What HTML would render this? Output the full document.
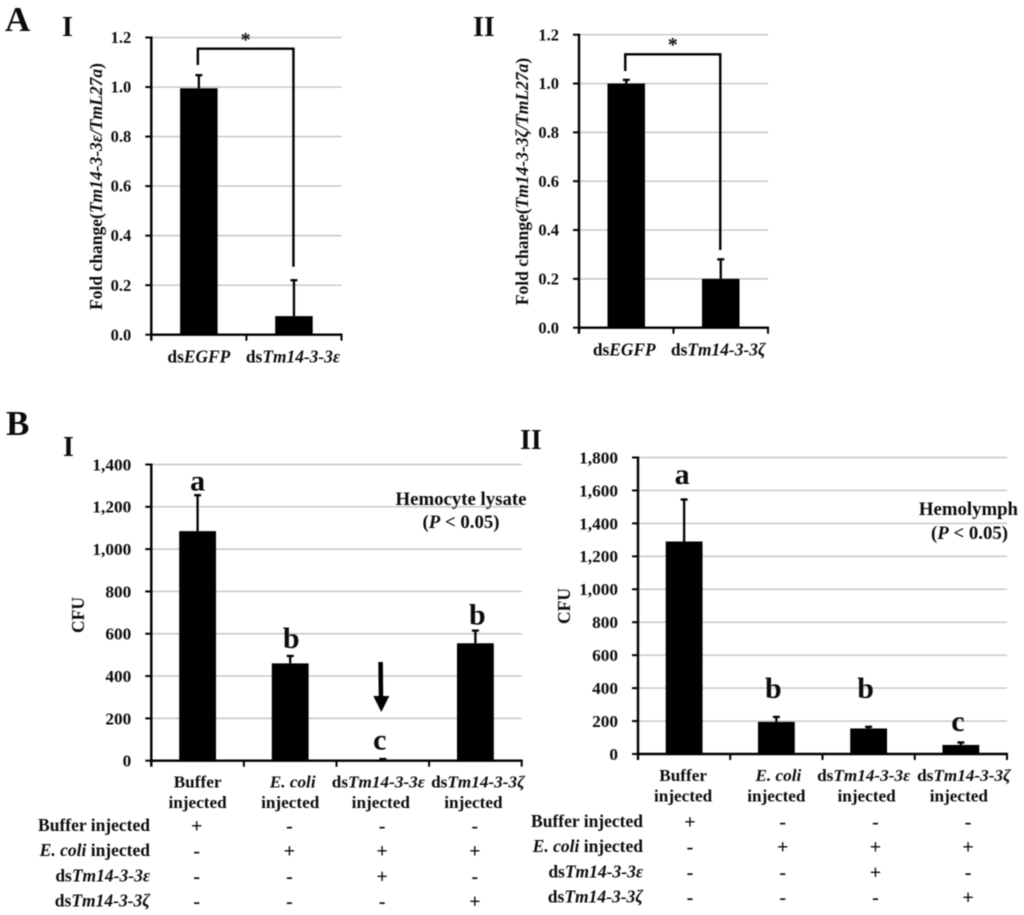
<!DOCTYPE html>
<html lang="en">
<head>
<meta charset="utf-8">
<title>Fold change and CFU bar charts</title>
<style>
html,body{margin:0;padding:0;background:#fff;width:1024px;height:915px;overflow:hidden}
svg{display:block;filter:blur(0.45px)}
text{font-family:"Liberation Serif","DejaVu Serif",serif;font-weight:bold;fill:#0c0c0c}
</style>
</head>
<body>
<svg id="figure" xmlns="http://www.w3.org/2000/svg" width="1024" height="915" viewBox="0 0 1024 915">
  <rect x="0" y="0" width="1024" height="915" fill="#fff"/>
  <text x="5" y="31" font-size="35">A</text>
  <text x="62" y="36" font-size="28">I</text>
  <text x="473" y="36" font-size="28">II</text>
  <text x="6" y="435" font-size="35">B</text>
  <text x="63" y="456" font-size="28">I</text>
  <text x="520" y="449" font-size="28">II</text>
</svg>
<script>
// Panel A-I: fold change of Tm14-3-3 epsilon
const aiCategories = [['ds*EGFP*'], ['ds*Tm14-3-3ε*']];
const aiValues = [0.995, 0.075];
const aiErrorTops = [1.048, 0.22];
const aiTicks = [0, 0.2, 0.4, 0.6, 0.8, 1.0, 1.2];
const aiTickLabels = ['0.0', '0.2', '0.4', '0.6', '0.8', '1.0', '1.2'];

// Panel A-II: fold change of Tm14-3-3 zeta
const aiiCategories = [['ds*EGFP*'], ['ds*Tm14-3-3ζ*']];
const aiiValues = [1.0, 0.2];
const aiiErrorTops = [1.015, 0.28];
const aiiTicks = [0, 0.2, 0.4, 0.6, 0.8, 1.0, 1.2];
const aiiTickLabels = ['0.0', '0.2', '0.4', '0.6', '0.8', '1.0', '1.2'];

// Panel B-I: hemocyte lysate CFU
const biCategories = [['Buffer', 'injected'], ['*E. coli*', 'injected'], ['ds*Tm14-3-3ε*', 'injected'], ['ds*Tm14-3-3ζ*', 'injected']];
const biValues = [1085, 460, 3, 555];
const biErrorTops = [1255, 495, 8, 615];
const biLetters = ['a', 'b', 'c', 'b'];
const biLetterValues = [1320, 575, 95, 686];
const biTicks = [0, 200, 400, 600, 800, 1000, 1200, 1400];
const biTickLabels = ['0', '200', '400', '600', '800', '1,000', '1,200', '1,400'];

// Panel B-II: hemolymph CFU
const biiCategories = [['Buffer', 'injected'], ['*E. coli*', 'injected'], ['ds*Tm14-3-3ε*', 'injected'], ['ds*Tm14-3-3ζ*', 'injected']];
const biiValues = [1290, 195, 155, 55];
const biiErrorTops = [1545, 225, 165, 70];
const biiLetters = ['a', 'b', 'b', 'c'];
const biiLetterValues = [1694, 395, 395, 194];
const biiTicks = [0, 200, 400, 600, 800, 1000, 1200, 1400, 1600, 1800];
const biiTickLabels = ['0', '200', '400', '600', '800', '1,000', '1,200', '1,400', '1,600', '1,800'];

// Treatment table shared by B panels
const rowLabels = ['Buffer injected', '*E. coli* injected', 'ds*Tm14-3-3ε*', 'ds*Tm14-3-3ζ*'];
const treatmentRows = [['+', '-', '-', '-'], ['-', '+', '+', '+'], ['-', '-', '+', '-'], ['-', '-', '-', '+']];

const SVGNS = 'http://www.w3.org/2000/svg';
const svg = document.getElementById('figure');

function mk(tag, attrs, parent) {
  const el = document.createElementNS(SVGNS, tag);
  Object.keys(attrs).forEach(function (k) { el.setAttribute(k, attrs[k]); });
  (parent || svg).appendChild(el);
  return el;
}

function richText(el, str) {
  str.split('*').forEach(function (part, i) {
    if (!part) return;
    const t = document.createElementNS(SVGNS, 'tspan');
    if (i % 2 === 1) t.setAttribute('font-style', 'italic');
    t.textContent = part;
    el.appendChild(t);
  });
}

function drawChart(p, categories, values, errorTops, ticks, tickLabels) {
  const group = mk('g', {});
  
  
  const yScale = function (v) { return p.y0 - (v / p.max) * (p.y0 - p.top); };
  const band = (p.right - p.left) / categories.length;
  const xCenter = function (i) { return p.left + (i + 0.5) * band; };

  ticks.forEach(function (t, i) {
    const y = yScale(t);
    if (t !== 0) {
      const g = mk('line', { x1: p.left, x2: p.right, y1: y, y2: y, stroke: '#c4c4c4', 'stroke-width': 1.4 }, group);
      
      
    }
    const tk = mk('line', { x1: p.left - 6, x2: p.left, y1: y, y2: y, stroke: '#000', 'stroke-width': 2 }, group);
    
    
    const lb = mk('text', { x: p.left - p.labelGap, y: y + p.tickFont * 0.34, 'font-size': p.tickFont, 'text-anchor': 'end' }, group);
    
    
    lb.textContent = tickLabels[i];
  });

  values.forEach(function (v, i) {
    const cx = xCenter(i);
    const barTop = yScale(v);
    const et = yScale(errorTops[i]);
    const stem = mk('line', { x1: cx, x2: cx, y1: barTop, y2: et, stroke: '#000', 'stroke-width': 2.3 }, group);
    
    
    const cap = mk('line', { x1: cx - 3.5, x2: cx + 3.5, y1: et, y2: et, stroke: '#000', 'stroke-width': 2.3 }, group);
    
    
    const bar = mk('rect', { x: cx - p.barWidth / 2, y: barTop, width: p.barWidth, height: p.y0 - barTop, fill: '#000' }, group);
    
    
  });

  const ya = mk('line', { x1: p.left, x2: p.left, y1: p.top - 1, y2: p.y0 + 6, stroke: '#000', 'stroke-width': 2.4 }, group);
  
  
  const xa = mk('line', { x1: p.left, x2: p.right + 1, y1: p.y0, y2: p.y0, stroke: '#000', 'stroke-width': 2.4 }, group);
  
  
  for (let i = 1; i <= categories.length; i++) {
    const x = p.left + i * band;
    const xt = mk('line', { x1: x, x2: x, y1: p.y0, y2: p.y0 + 6, stroke: '#000', 'stroke-width': 2 }, group);
    
    
  }

  categories.forEach(function (lines, i) {
    lines.forEach(function (line, j) {
      const nudge = (j === 0 ? p.nameNudge[i] : p.injectedNudge[i]);
      const lb = mk('text', { x: xCenter(i) + nudge, y: p.y0 + p.catY + j * 20.5, 'font-size': p.catFont, 'text-anchor': 'middle' }, group);
      
      
      richText(lb, line);
    });
  });

  const yt = mk('text', { transform: 'translate(' + p.titleX + ',' + p.titleY + ') rotate(-90)', 'font-size': p.titleFont, 'text-anchor': 'middle' }, group);
  
  
  richText(yt, p.title);

  return { yScale: yScale, xCenter: xCenter, group: group };
}

function drawBracket(c, name, y1, yTop, y2, starY) {
  const xa = c.xCenter(0) - 1;
  const xb = c.xCenter(1) - 0.5;
  const b = mk('path', { d: 'M' + xa + ' ' + y1 + 'V' + yTop + 'H' + xb + 'V' + y2, fill: 'none', stroke: '#000', 'stroke-width': 2.4 }, c.group);
  
  
  const s = mk('text', { x: (xa + xb) / 2, y: starY, 'font-size': 20, 'text-anchor': 'middle' }, c.group);
  
  
  s.textContent = '*';
}

function drawLetters(c, letters, letterValues, nudges) {
  letters.forEach(function (l, i) {
    const t = mk('text', { x: c.xCenter(i) + nudges[i], y: c.yScale(letterValues[i]) + 9, 'font-size': 30, 'text-anchor': 'middle' }, c.group);
    
    
    t.textContent = l;
  });
}

function drawTable(name, labelRight, colX0, colStep, rowY0, rowStep) {
  const g = mk('g', {});
  
  
  rowLabels.forEach(function (label, r) {
    const y = rowY0 + r * rowStep;
    const t = mk('text', { x: labelRight, y: y + 5, 'font-size': 17.5, 'text-anchor': 'end' }, g);
    
    
    richText(t, label);
    treatmentRows[r].forEach(function (sym, c) {
      const m = mk('text', { x: colX0 + c * colStep, y: y + 6.5, 'font-size': 20, 'text-anchor': 'middle' }, g);
      
      
      m.textContent = sym;
    });
  });
}

const chartAI = drawChart({ name: 'chart-a-i', left: 151.3, right: 341.5, top: 37.5, y0: 334.7, max: 1.2, barWidth: 37.5, tickFont: 16.5, labelGap: 20, catFont: 17.4, catY: 28, nameNudge: [0, -1], injectedNudge: [0, 0], titleX: 102, titleY: 186.5, titleFont: 17.5, title: 'Fold change(*Tm14-3-3ε/TmL27a*)' }, aiCategories, aiValues, aiErrorTops, aiTicks, aiTickLabels);
drawBracket(chartAI, 'significance-bracket', 65, 48.7, 266.7, 46);

const chartAII = drawChart({ name: 'chart-a-ii', left: 579, right: 768, top: 34.7, y0: 327.7, max: 1.2, barWidth: 37.5, tickFont: 16.5, labelGap: 20, catFont: 17.4, catY: 28, nameNudge: [-2, -2.5], injectedNudge: [0, 0], titleX: 528, titleY: 181.5, titleFont: 17.5, title: 'Fold change(*Tm14-3-3ζ/TmL27a*)' }, aiiCategories, aiiValues, aiiErrorTops, aiiTicks, aiiTickLabels);
drawBracket(chartAII, 'significance-bracket', 71, 54.3, 250, 51);

const chartBI = drawChart({ name: 'chart-b-i', left: 151.3, right: 521.7, top: 464.5, y0: 760.7, max: 1400, barWidth: 36.8, tickFont: 17.3, labelGap: 20, catFont: 17.2, catY: 27, nameNudge: [0, 2.5, -4.5, 2.5], injectedNudge: [0, 0, -2, -2], titleX: 84, titleY: 615, titleFont: 17.5, title: 'CFU' }, biCategories, biValues, biErrorTops, biTicks, biTickLabels);
drawLetters(chartBI, biLetters, biLetterValues, [0, 1, -3, 2]);
drawTable('treatment-table-i', 150, 196.7, 92.7, 826, 25.2);

const chartBII = drawChart({ name: 'chart-b-ii', left: 638, right: 1007, top: 457.5, y0: 754, max: 1800, barWidth: 36.8, tickFont: 17.3, labelGap: 20, catFont: 17.2, catY: 27, nameNudge: [-1, 2, -5, 3], injectedNudge: [-1, 0, -2, -2], titleX: 570, titleY: 606, titleFont: 17.5, title: 'CFU' }, biiCategories, biiValues, biiErrorTops, biiTicks, biiTickLabels);
drawLetters(chartBII, biiLetters, biiLetterValues, [-2, -3, -3, -3]);
drawTable('treatment-table-ii', 643, 690, 92.7, 822, 25.2);

const arrow = mk('polygon', { points: '378.3,662 382.9,662 383.2,696 389.3,696 381.3,712 373.3,696 378.7,696', fill: '#000' });



function note(name, x, y, anchor, html) {
  const t = mk('text', { x: x, y: y, 'font-size': 18.8, 'text-anchor': anchor });
  
  
  richText(t, html);
}
note('hemocyte-lysate-label', 461, 505, 'middle', 'Hemocyte lysate');
note('hemocyte-p-value', 461, 528, 'middle', '(*P* < 0.05)');
note('hemolymph-label', 1018, 515, 'end', 'Hemolymph');
note('hemolymph-p-value', 1008, 539, 'end', '(*P* < 0.05)');
</script>
</body>
</html>
